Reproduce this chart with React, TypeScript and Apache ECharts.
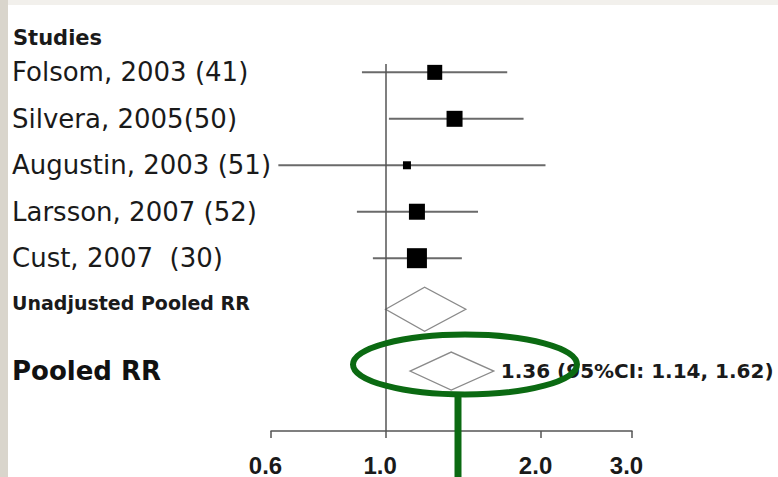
import React, { useEffect, useRef } from "react";
import * as echarts from "echarts";

// ---- data ----
const studyLabels = [
  "Folsom, 2003 (41)",
  "Silvera, 2005(50)",
  "Augustin, 2003 (51)",
  "Larsson, 2007 (52)",
  "Cust, 2007  (30)",
];
const studyRR = [1.245, 1.36, 1.1, 1.15, 1.15];
const studyLower = [0.9, 1.015, 0.62, 0.88, 0.945];
const studyUpper = [1.72, 1.85, 2.04, 1.51, 1.405];
const studyWeight = [15, 16, 8, 16, 20];

const pooledLabels = ["Unadjusted Pooled RR", "Pooled RR"];
const pooledRR = [1.19, 1.34];
const pooledLower = [1.0, 1.115];
const pooledUpper = [1.43, 1.62];
const pooledNote = ["", "1.36 (95%CI: 1.14, 1.62)"];

const rowPositions = [0, 1, 2, 3, 4, 5.1, 6.43];
const xTicks = [0.6, 1.0, 2.0, 3.0];
const headerText = "Studies";

// ---- styles ----
const DIAMOND_HALF = [22, 19];
const GREEN = "#0b6a12";

export default function App() {
  const ref = useRef<HTMLDivElement>(null);

  useEffect(() => {
    if (!ref.current) return;
    const chart = echarts.init(ref.current, undefined, { renderer: "svg" });
    const ln = Math.log;
    const allLabels = [...studyLabels, ...pooledLabels];
    const labelStyle = ["s", "s", "s", "s", "s", "u", "p"];

    const studyData = studyLabels.map((_, i) => [
      ln(studyLower[i]),
      ln(studyRR[i]),
      ln(studyUpper[i]),
      rowPositions[i],
      studyWeight[i],
    ]);
    const pooledData = pooledLabels.map((_, i) => [
      ln(pooledLower[i]),
      ln(pooledRR[i]),
      ln(pooledUpper[i]),
      rowPositions[studyLabels.length + i],
    ]);

    const option: any = {
      animation: false,
      backgroundColor: "#ffffff",
      title: {
        text: headerText,
        left: 13,
        top: 27,
        padding: 0,
        textStyle: {
          fontFamily: "DejaVu Sans",
          fontWeight: "bold",
          fontSize: 21,
          color: "#1a1a1a",
        },
      },
      grid: { left: 271, right: 146, top: 64, bottom: 46 },
      xAxis: {
        type: "value",
        position: "bottom",
        min: ln(0.6),
        max: ln(3.0),
        splitLine: { show: false },
        axisLine: {
          show: true,
          onZero: false,
          lineStyle: { color: "#555", width: 1.5 },
        },
        axisTick: {
          show: true,
          customValues: xTicks.map((v) => ln(v)),
          length: 7,
          lineStyle: { color: "#555", width: 1.5 },
        },
        axisLabel: {
          customValues: xTicks.map((v) => ln(v)),
          formatter: (v: number) => Math.exp(v).toFixed(1),
          fontFamily: "Liberation Sans",
          fontWeight: "bold",
          fontSize: 24,
          color: "#1a1a1a",
          margin: 22,
          padding: [0, 11, 0, 0],
        },
      },
      yAxis: {
        type: "value",
        inverse: true,
        min: -0.18,
        max: 7.72,
        splitLine: { show: false },
        axisLine: { show: false },
        axisTick: { show: false },
        axisLabel: {
          customValues: rowPositions,
          align: "left",
          margin: 259,
          formatter: (v: number) => {
            let idx = 0;
            rowPositions.forEach((p, i) => {
              if (Math.abs(p - v) < Math.abs(rowPositions[idx] - v)) idx = i;
            });
            return `{${labelStyle[idx]}|${allLabels[idx]}}`;
          },
          rich: {
            s: { fontFamily: "DejaVu Sans", fontSize: 26, color: "#1a1a1a" },
            u: {
              fontFamily: "DejaVu Sans",
              fontWeight: "bold",
              fontSize: 19,
              color: "#1a1a1a",
              padding: [0, 0, 12, 0],
            },
            p: {
              fontFamily: "DejaVu Sans",
              fontWeight: "bold",
              fontSize: 26,
              color: "#111",
            },
          },
        },
      },
      series: [
        {
          type: "custom",
          name: "studies",
          data: studyData,
          encode: { x: [0, 1, 2], y: 3 },
          renderItem: (params: any, api: any) => {
            const y = api.value(3);
            const lo = api.coord([api.value(0), y]);
            const hi = api.coord([api.value(2), y]);
            const c = api.coord([api.value(1), y]);
            const s = api.value(4);
            return {
              type: "group",
              children: [
                {
                  type: "line",
                  shape: { x1: lo[0], y1: lo[1], x2: hi[0], y2: hi[1] },
                  style: { stroke: "#6a6a6a", lineWidth: 2 },
                },
                {
                  type: "rect",
                  shape: { x: c[0] - s / 2, y: c[1] - s / 2, width: s, height: s },
                  style: { fill: "#000" },
                },
              ],
            };
          },
          markLine: {
            silent: true,
            symbol: "none",
            label: { show: false },
            lineStyle: { color: "#555", width: 1.5, type: "solid" },
            data: [{ xAxis: 0 }],
          },
        },
        {
          type: "custom",
          name: "pooled",
          data: pooledData,
          encode: { x: [0, 1, 2], y: 3 },
          renderItem: (params: any, api: any) => {
            const i = params.dataIndex;
            const y = api.value(3);
            const lo = api.coord([api.value(0), y]);
            const hi = api.coord([api.value(2), y]);
            const c = api.coord([api.value(1), y]);
            const h = DIAMOND_HALF[i];
            const children: any[] = [
              {
                type: "polygon",
                shape: {
                  points: [
                    [lo[0], lo[1]],
                    [c[0], c[1] - h],
                    [hi[0], hi[1]],
                    [c[0], c[1] + h],
                  ],
                },
                style: { fill: "#fff", stroke: "#8a8a8a", lineWidth: 1.3 },
              },
            ];
            if (pooledNote[i]) {
              children.push({
                type: "text",
                x: hi[0] + 7,
                y: hi[1],
                style: {
                  text: pooledNote[i],
                  fontFamily: "DejaVu Sans",
                  fontWeight: "bold",
                  fontSize: 20,
                  fill: "#1a1a1a",
                  verticalAlign: "middle",
                  align: "left",
                },
              });
            }
            return { type: "group", children };
          },
        },
      ],
      graphic: [
        {
          type: "rect",
          z: 1,
          shape: { x: 0, y: 0, width: 778, height: 5 },
          style: { fill: "#f2f0ec" },
        },
        {
          type: "rect",
          z: 2,
          shape: { x: 0, y: 0, width: 8, height: 477 },
          style: { fill: "#d9d5cc" },
        },
        {
          type: "ellipse",
          z: 100,
          shape: { cx: 465, cy: 364.5, rx: 112, ry: 30 },
          style: { fill: "none", stroke: GREEN, lineWidth: 6 },
        },
        {
          type: "line",
          z: 100,
          shape: { x1: 458, y1: 394, x2: 458, y2: 477 },
          style: { stroke: GREEN, lineWidth: 7 },
        },
      ],
    };

    chart.setOption(option);
    return () => chart.dispose();
  }, []);

  return (
    <div
      ref={ref}
      style={{ position: "fixed", left: 0, top: 0, width: 778, height: 477 }}
    />
  );
}
